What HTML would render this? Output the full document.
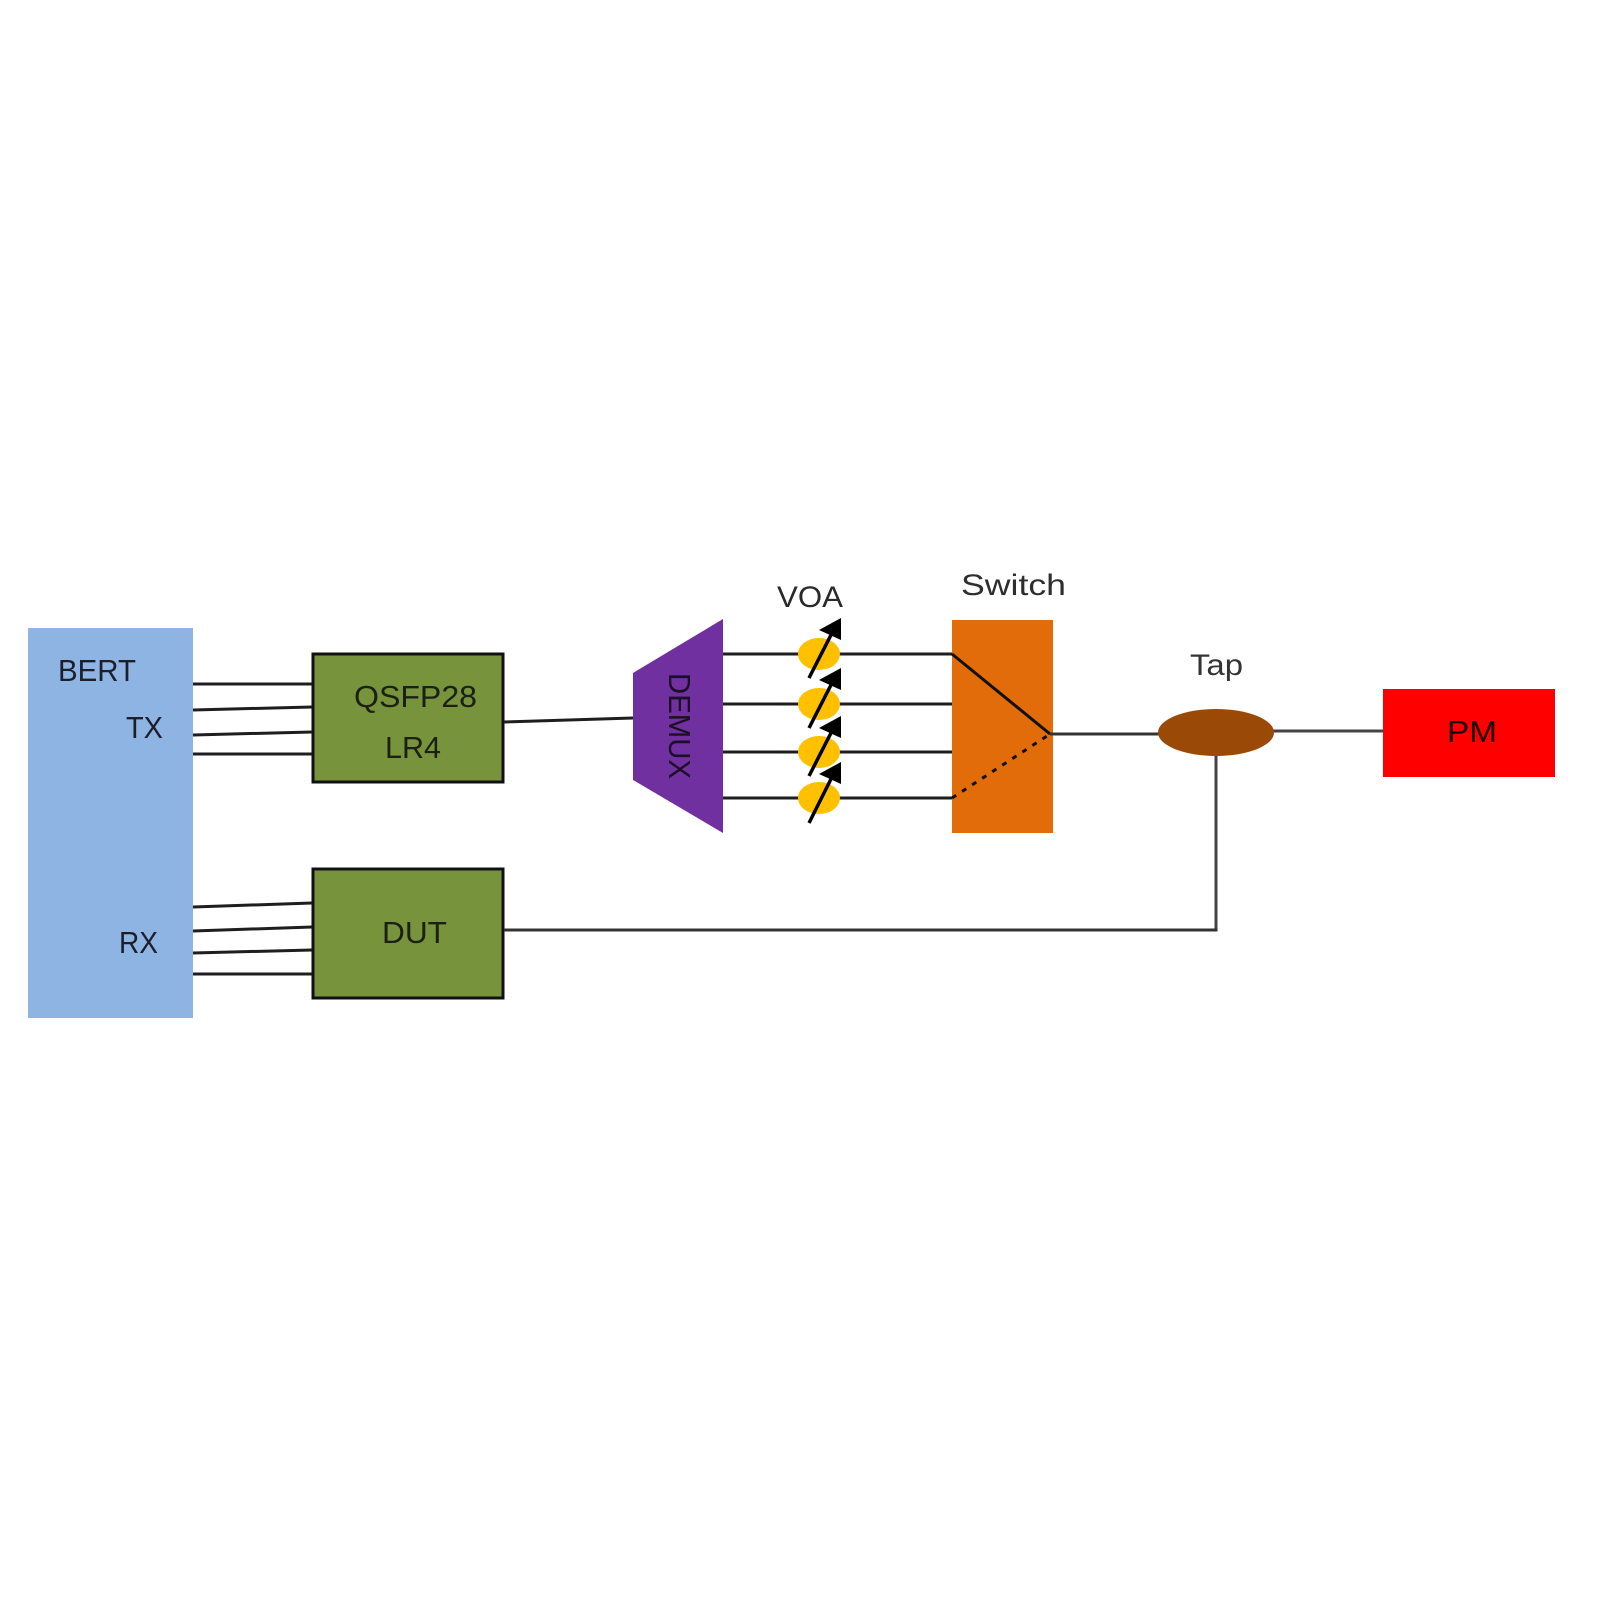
<!DOCTYPE html>
<html>
<head>
<meta charset="utf-8">
<style>
html,body{margin:0;padding:0;background:#fff;}
svg{display:block;}
text{font-family:"Liberation Sans",sans-serif;}
</style>
</head>
<body>
<svg width="1600" height="1600" viewBox="0 0 1600 1600" xmlns="http://www.w3.org/2000/svg">
<rect x="0" y="0" width="1600" height="1600" fill="#ffffff"/>

<!-- BERT -->
<rect x="28" y="628" width="165" height="390" fill="#8eb4e3"/>
<text x="58" y="681" font-size="31" fill="#1c1f2a" textLength="78" lengthAdjust="spacingAndGlyphs">BERT</text>
<text x="126" y="738" font-size="31" fill="#1c1f2a" textLength="37" lengthAdjust="spacingAndGlyphs">TX</text>
<text x="119" y="953" font-size="31" fill="#1c1f2a" textLength="39" lengthAdjust="spacingAndGlyphs">RX</text>

<!-- TX lines -->
<g stroke="#1e1e1e" stroke-width="3" fill="none">
<line x1="193" y1="684" x2="312" y2="684"/>
<line x1="193" y1="710" x2="312" y2="707"/>
<line x1="193" y1="735" x2="312" y2="732"/>
<line x1="193" y1="754" x2="312" y2="754"/>
<!-- RX lines -->
<line x1="193" y1="907" x2="312" y2="903"/>
<line x1="193" y1="931" x2="312" y2="927"/>
<line x1="193" y1="953" x2="312" y2="950"/>
<line x1="193" y1="974" x2="312" y2="974"/>
</g>

<!-- QSFP28 -->
<rect x="313" y="654" width="190" height="128" fill="#77933c" stroke="#111" stroke-width="3"/>
<text x="354" y="707" font-size="31" fill="#1c1f14" textLength="123" lengthAdjust="spacingAndGlyphs">QSFP28</text>
<text x="385" y="758" font-size="31" fill="#1c1f14" textLength="56" lengthAdjust="spacingAndGlyphs">LR4</text>

<!-- DUT -->
<rect x="313" y="869" width="190" height="129" fill="#77933c" stroke="#111" stroke-width="3"/>
<text x="382" y="943" font-size="31" fill="#1c1f14" textLength="65" lengthAdjust="spacingAndGlyphs">DUT</text>

<!-- QSFP to DEMUX -->
<line x1="504" y1="722" x2="633" y2="718" stroke="#1e1e1e" stroke-width="3"/>

<!-- DEMUX -->
<polygon points="633,673 723,619 723,833 633,780" fill="#7030a0"/>
<text x="0" y="0" font-size="31" fill="#1a0f24" textLength="106" lengthAdjust="spacingAndGlyphs" transform="translate(669,673) rotate(90)">DEMUX</text>

<!-- channel lines -->
<g stroke="#1e1e1e" stroke-width="3" fill="none">
<line x1="723" y1="654" x2="953" y2="654"/>
<line x1="723" y1="704" x2="953" y2="704"/>
<line x1="723" y1="752" x2="953" y2="752"/>
<line x1="723" y1="798" x2="953" y2="798"/>
</g>

<!-- VOAs -->
<g>
<ellipse cx="819" cy="654" rx="21" ry="16" fill="#ffc000"/>
<ellipse cx="819" cy="704" rx="21" ry="16" fill="#ffc000"/>
<ellipse cx="819" cy="752" rx="21" ry="16" fill="#ffc000"/>
<ellipse cx="819" cy="798" rx="21" ry="16" fill="#ffc000"/>
</g>
<g stroke="#000" stroke-width="3.5" fill="none">
<line x1="809" y1="678" x2="832" y2="633"/>
<line x1="809" y1="728" x2="832" y2="683"/>
<line x1="809" y1="776" x2="832" y2="731"/>
<line x1="809" y1="823" x2="832" y2="777"/>
</g>
<g fill="#000">
<polygon points="841,618 841,640 819,630"/>
<polygon points="841,668 841,690 819,680"/>
<polygon points="841,716 841,738 819,728"/>
<polygon points="841,762 841,784 819,774"/>
</g>
<text x="777" y="607" font-size="30" fill="#2a2a2a" textLength="66" lengthAdjust="spacingAndGlyphs">VOA</text>

<!-- Switch -->
<rect x="952" y="620" width="101" height="213" fill="#e36c0a"/>
<text x="961" y="595" font-size="30" fill="#2e2e2e" textLength="105" lengthAdjust="spacingAndGlyphs">Switch</text>
<line x1="952" y1="654" x2="1050" y2="734" stroke="#111" stroke-width="3"/>
<line x1="952" y1="798" x2="1050" y2="734" stroke="#111" stroke-width="3" stroke-dasharray="5,7"/>

<!-- Switch to Tap -->
<line x1="1050" y1="734" x2="1162" y2="734" stroke="#333" stroke-width="3"/>

<!-- Tap -->
<line x1="1216" y1="740" x2="1216" y2="930" stroke="#444" stroke-width="3"/>
<line x1="504" y1="930" x2="1217.5" y2="930" stroke="#333" stroke-width="3"/>
<line x1="1268" y1="731" x2="1384" y2="731" stroke="#444" stroke-width="3"/>
<ellipse cx="1216" cy="732.5" rx="58" ry="23.5" fill="#9a4a06"/>
<text x="1190" y="675" font-size="30" fill="#333" textLength="53" lengthAdjust="spacingAndGlyphs">Tap</text>

<!-- PM -->
<rect x="1383" y="689" width="172" height="88" fill="#ff0000"/>
<text x="1447" y="742" font-size="31" fill="#1a0000" textLength="50" lengthAdjust="spacingAndGlyphs">PM</text>
</svg>
</body>
</html>
